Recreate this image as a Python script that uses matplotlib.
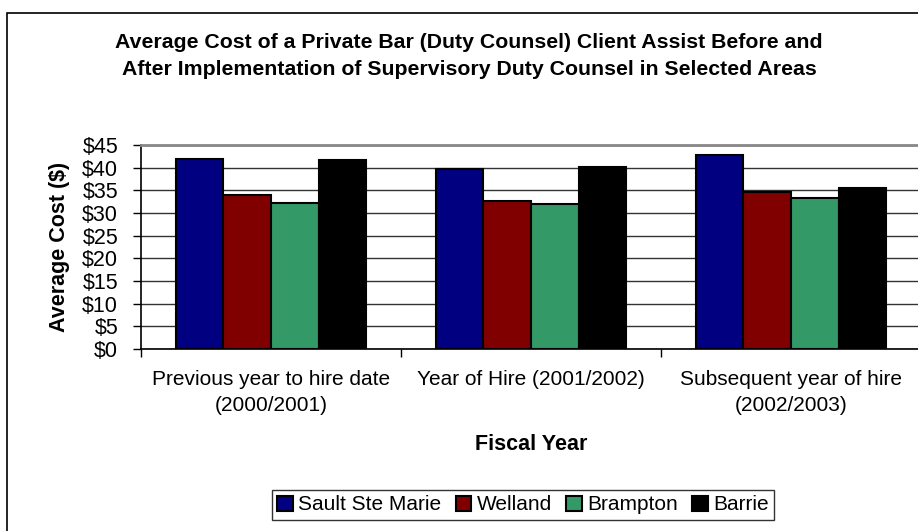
import numpy as np
import matplotlib.pyplot as plt
from matplotlib.patches import Rectangle

plt.rcParams['font.family'] = ['Liberation Sans', 'DejaVu Sans']

# --- data ---
categories = ["Previous year to hire date\n(2000/2001)",
              "Year of Hire (2001/2002)",
              "Subsequent year of hire\n(2002/2003)"]
series_names = ["Sault Ste Marie", "Welland", "Brampton", "Barrie"]
sault = [41.9, 39.8, 42.8]
welland = [33.9, 32.6, 34.7]
brampton = [32.2, 31.9, 33.4]
barrie = [41.6, 40.2, 35.5]
colors = ["#000080", "#800000", "#339966", "#000000"]
yticks = list(range(0, 50, 5))

fig = plt.figure(figsize=(9.18, 5.31), dpi=100)
W, H = 918, 531
ax = fig.add_axes([141 / W, 1 - 349 / H, 780 / W, 204 / H])

# outer chart border
fig.add_artist(Rectangle((7 / W, -0.05), 1.0, 1 - 13 / H + 0.05, transform=fig.transFigure,
                         fill=False, edgecolor='black', linewidth=1.2))

x = np.arange(len(categories))
bw = 0.183
for i, (vals, name, c) in enumerate(zip([sault, welland, brampton, barrie], series_names, colors)):
    ax.bar(x + (i - 1.5) * bw, vals, width=bw, color=c, edgecolor='black',
           linewidth=1.5, label=name, zorder=3)

ax.set_xlim(-0.5, 2.5)
ax.set_ylim(0, 45)
ax.set_yticks(yticks)
ax.set_yticklabels([f"${v}" for v in yticks], fontsize=15.5)
ax.yaxis.grid(True, color='#333333', linewidth=1.0, zorder=0)
ax.set_axisbelow(True)

ax.set_xticks(x)
ax.set_xticklabels(categories, fontsize=15, linespacing=1.45)
ax.tick_params(axis='x', which='major', length=0, pad=15)
ax.set_xticks([-0.5, 0.5, 1.5, 2.5], minor=True)
ax.tick_params(axis='x', which='minor', length=6, width=1, direction='out')
ax.tick_params(axis='y', length=6, width=1, direction='out', pad=10.5)

ax.spines['right'].set_visible(False)
ax.spines['top'].set_color('#888888')
ax.spines['top'].set_linewidth(2)
ax.spines['left'].set_linewidth(1.2)
ax.spines['bottom'].set_linewidth(1.2)

fig.text(60 / W, 1 - 247 / H, "Average Cost ($)", rotation=90, ha='center', va='center',
         fontsize=15.5, fontweight='bold')
fig.text(531 / W, 1 - 445 / H, "Fiscal Year", ha='center', va='center',
         fontsize=15.5, fontweight='bold')

fig.text(469 / W, 1 - 56 / H,
         "Average Cost of a Private Bar (Duty Counsel) Client Assist Before and\n"
         "After Implementation of Supervisory Duty Counsel in Selected Areas",
         ha='center', va='center', fontsize=15.3, fontweight='bold', linespacing=1.5)

leg = fig.legend(loc='center', bbox_to_anchor=(523 / W, 1 - 505 / H), ncol=4,
                 fontsize=15, frameon=True, fancybox=False, edgecolor='black',
                 handlelength=0.75, handleheight=0.75, handletextpad=0.25,
                 columnspacing=0.7, borderpad=0.25)
leg.get_frame().set_linewidth(1.0)

fig.savefig("out.png", dpi=100)
